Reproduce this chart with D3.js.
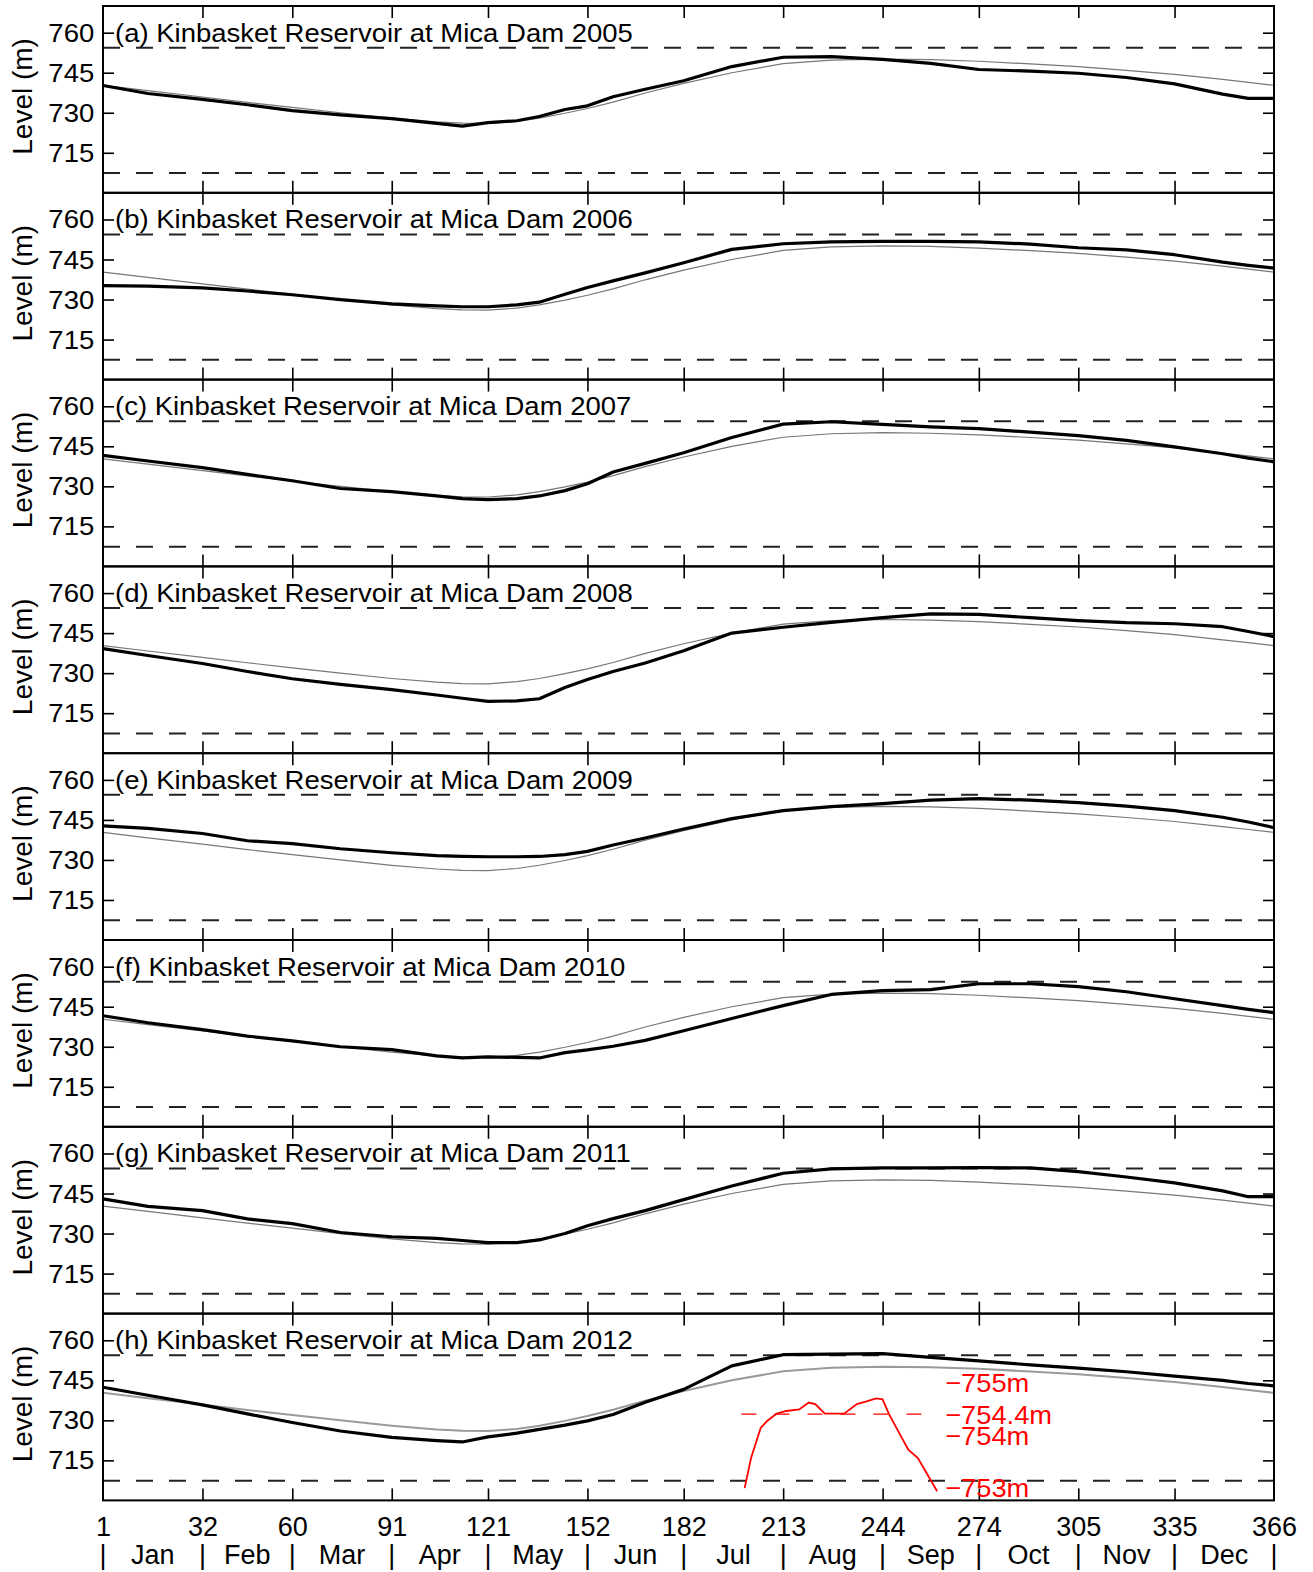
<!DOCTYPE html>
<html>
<head>
<meta charset="utf-8">
<script src="https://cdn.jsdelivr.net/npm/d3@7"></script>
<style>
  body { margin: 0; background: #fff; }
  text { font-family: "Liberation Sans", Arial, sans-serif; }
</style>
</head>
<body>
<div id="chart"></div>
<script>
// day-of-year grid used for every series
var days = [1, 15, 32, 46, 60, 75, 91, 105, 113, 121, 130, 137, 145, 152, 160, 170, 182, 197, 213, 228, 244, 259, 274, 290, 305, 320, 335, 350, 358, 366];

// thin grey line (normal level), same in every panel
var normal = [740.3, 738.3, 735.9, 733.9, 732.0, 730.0, 728.0, 726.6, 726.1, 726.0, 726.8, 728.0, 729.8, 731.6, 734.0, 737.4, 741.0, 745.0, 748.4, 749.7, 750.1, 749.9, 749.3, 748.3, 747.3, 745.9, 744.4, 742.5, 741.4, 740.3];

// thick black lines (observed level)
var obs2005 = [740.2, 737.2, 735.0, 733.0, 730.8, 729.2, 727.8, 726.0, 725.0, 726.3, 727.0, 728.6, 731.2, 732.6, 736.0, 738.8, 742.0, 747.3, 750.8, 751.0, 750.0, 748.5, 746.2, 745.6, 744.8, 743.2, 740.8, 737.0, 735.4, 735.4];
var obs2006 = [735.2, 735.0, 734.4, 733.2, 731.8, 730.0, 728.4, 727.6, 727.3, 727.3, 728.0, 729.0, 732.0, 734.5, 737.0, 740.0, 743.8, 748.8, 750.9, 751.6, 751.8, 751.8, 751.6, 750.8, 749.4, 748.6, 746.8, 744.0, 742.8, 741.8];
var obs2007 = [741.6, 739.5, 737.0, 734.5, 732.1, 729.2, 728.0, 726.4, 725.4, 725.0, 725.4, 726.4, 728.4, 731.0, 735.4, 738.6, 742.6, 748.3, 753.3, 754.2, 753.2, 752.3, 751.6, 750.3, 749.0, 747.2, 744.8, 742.2, 740.6, 739.2];
var obs2008 = [739.2, 736.6, 733.6, 730.6, 727.9, 725.8, 723.8, 721.8, 720.6, 719.4, 719.6, 720.4, 724.6, 727.6, 730.6, 733.8, 738.4, 745.0, 747.2, 749.0, 750.8, 752.2, 752.0, 750.8, 749.7, 748.9, 748.5, 747.4, 745.6, 743.7];
var obs2009 = [742.8, 741.8, 739.9, 737.2, 736.1, 734.2, 732.7, 731.6, 731.3, 731.2, 731.2, 731.3, 732.0, 733.2, 735.6, 738.2, 741.6, 745.5, 748.5, 750.0, 751.1, 752.4, 753.0, 752.4, 751.5, 750.2, 748.5, 746.0, 744.2, 742.1];
var obs2010 = [741.6, 739.0, 736.4, 734.0, 732.2, 730.0, 728.9, 726.6, 725.8, 726.2, 726.0, 725.8, 727.8, 728.8, 730.2, 732.4, 736.0, 740.6, 745.4, 749.6, 751.0, 751.4, 753.6, 753.6, 752.5, 750.6, 748.0, 745.4, 744.0, 742.8];
var obs2011 = [743.0, 740.2, 738.6, 735.5, 733.7, 730.4, 728.8, 728.2, 727.4, 726.6, 726.6, 727.6, 730.0, 732.9, 735.6, 738.6, 742.7, 747.8, 752.6, 754.2, 754.6, 754.6, 754.7, 754.6, 753.2, 751.2, 749.0, 746.0, 743.8, 743.8];
var obs2012 = [742.4, 739.4, 735.8, 732.4, 729.2, 726.0, 723.6, 722.4, 721.9, 723.8, 725.2, 726.6, 728.2, 729.8, 732.2, 736.8, 741.6, 750.4, 754.6, 754.8, 755.0, 753.6, 752.3, 750.8, 749.6, 748.2, 746.6, 745.0, 743.8, 742.9];

var observed = [obs2005, obs2006, obs2007, obs2008, obs2009, obs2010, obs2011, obs2012];
var years = [2005, 2006, 2007, 2008, 2009, 2010, 2011, 2012];
var letters = ["a", "b", "c", "d", "e", "f", "g", "h"];

// red close-up of the 2012 summer peak
var redDays = [201, 203, 206, 208, 211, 214, 218, 221, 223, 226, 232, 236, 239, 242, 244, 246, 250, 252, 255, 261];
var redLevels = [753.0, 753.57, 754.14, 754.27, 754.41, 754.46, 754.49, 754.62, 754.59, 754.41, 754.41, 754.59, 754.64, 754.7, 754.68, 754.4, 753.95, 753.73, 753.57, 752.94];
var redTicks = [755, 754.4, 754, 753];
var redTickLabels = ["\u2212755m", "\u2212754.4m", "\u2212754m", "\u2212753m"];

var yTicks = [715, 730, 745, 760];
var xTicks = [1, 32, 60, 91, 121, 152, 182, 213, 244, 274, 305, 335, 366];
var months = ["Jan", "Feb", "Mar", "Apr", "May", "Jun", "Jul", "Aug", "Sep", "Oct", "Nov", "Dec"];
var fullPool = 754.4,
  minPool = 707.4;

// set the dimensions of the graph
var W = 1313,
  H = 1572,
  left = 103,
  right = 1274,
  top0 = 6,
  ph = 186.8;

var svg = d3
  .select("#chart")
  .append("svg")
  .attr("width", W)
  .attr("height", H)
  .style("background", "#fff");

var x = d3.scaleLinear().domain([1, 366]).range([left, right]);
var y = d3.scaleLinear().domain([700, 770]).range([ph, 0]);

var line = d3
  .line()
  .x(function (d) { return x(d[0]); })
  .y(function (d) { return y(d[1]); });

observed.forEach(function (obs, i) {
  var g = svg.append("g").attr("transform", "translate(0," + (top0 + i * ph) + ")");

  // dashed full pool / minimum pool lines
  [fullPool, minPool].forEach(function (lv) {
    g.append("line")
      .attr("x1", x(1))
      .attr("x2", x(366))
      .attr("y1", y(lv))
      .attr("y2", y(lv))
      .attr("stroke", "#222")
      .attr("stroke-width", 2)
      .attr("stroke-dasharray", "17,16");
  });

  // normal
  g.append("path")
    .datum(days.map(function (d, k) { return [d, normal[k]]; }))
    .attr("d", line)
    .attr("fill", "none")
    .attr("stroke", i == 7 ? "#9a9a9a" : "#777")
    .attr("stroke-width", i == 7 ? 2 : 1.2);

  // observed
  g.append("path")
    .datum(days.map(function (d, k) { return [d, obs[k]]; }))
    .attr("d", line)
    .attr("fill", "none")
    .attr("stroke", "#000")
    .attr("stroke-width", 3.2)
    .attr("stroke-linejoin", "round");

  // axes, ticks inward
  g.append("g").attr("class", "yl").attr("transform", "translate(" + left + ",0)")
    .call(d3.axisLeft(y).tickValues(yTicks).tickSize(-11).tickSizeOuter(0).tickPadding(8));
  g.append("g").attr("transform", "translate(" + right + ",0)")
    .call(d3.axisRight(y).tickValues(yTicks).tickSize(-11).tickSizeOuter(0).tickFormat(""));
  g.append("g")
    .call(d3.axisTop(x).tickValues(xTicks.slice(1, -1)).tickSize(-12).tickSizeOuter(0).tickFormat(""));
  var xb = g.append("g").attr("transform", "translate(0," + ph + ")")
    .call(d3.axisBottom(x).tickValues(i == 7 ? xTicks : xTicks.slice(1, -1)).tickSize(-12).tickSizeOuter(0).tickPadding(16)
      .tickFormat(i == 7 ? d3.format("d") : ""));
  if (i == 7) xb.selectAll(".tick").filter(function (d) { return d == 1 || d == 366; }).select("line").remove();

  g.selectAll(".domain").remove();
  g.selectAll(".tick line").attr("stroke", "#000").attr("stroke-width", 1.6);
  g.selectAll(".tick text").attr("font-size", 27).attr("fill", "#000")
    .attr("font-family", "Liberation Sans, Arial, sans-serif");
  // the level labels are wide and short in the original
  g.selectAll(".yl .tick text").attr("font-size", 25).attr("dy", "0.34em").attr("transform", "scale(1.1,1)");

  // frame
  g.append("rect")
    .attr("x", left)
    .attr("y", 0)
    .attr("width", right - left)
    .attr("height", ph)
    .attr("fill", "none")
    .attr("stroke", "#000")
    .attr("stroke-width", 2);

  // panel title
  g.append("text")
    .attr("transform", "translate(" + (x(1) + 12) + "," + (y(760) + 9) + ") scale(1.1,1)")
    .attr("font-size", 25)
    .text("(" + letters[i] + ") Kinbasket Reservoir at Mica Dam " + years[i]);

  // y label
  g.append("text")
    .attr("transform", "translate(32," + (ph / 2 - 3) + ") rotate(-90)")
    .attr("text-anchor", "middle")
    .attr("font-size", 28)
    .text("Level (m)");

  if (i == 7) {
    var ry = d3.scaleLinear().domain([753, 755]).range([y(704.6), y(744.2)]);
    g.append("line")
      .attr("x1", x(200))
      .attr("x2", x(259))
      .attr("y1", ry(754.4))
      .attr("y2", ry(754.4))
      .attr("stroke", "#f00")
      .attr("stroke-width", 1.3)
      .attr("stroke-dasharray", "15,18");
    g.append("path")
      .datum(redDays.map(function (d, k) { return [d, redLevels[k]]; }))
      .attr("d", d3.line().x(function (d) { return x(d[0]); }).y(function (d) { return ry(d[1]); }))
      .attr("fill", "none")
      .attr("stroke", "#f00")
      .attr("stroke-width", 1.8);
    g.selectAll("text.red")
      .data(redTicks)
      .enter()
      .append("text")
      .attr("class", "red")
      .attr("transform", function (d) { return "translate(" + x(263.5) + "," + ry(d) + ") scale(1.05,1)"; })
      .attr("dy", "0.36em")
      .attr("font-size", 26)
      .attr("fill", "#f00")
      .text(function (d, k) { return redTickLabels[k]; });
  }
});

// month row under the last panel
var mrow = svg.append("g");
var yMonth = top0 + 8 * ph + 64;
mrow.selectAll("text.sep")
  .data(xTicks)
  .enter()
  .append("text")
  .attr("x", function (d) { return x(d); })
  .attr("y", yMonth)
  .attr("text-anchor", "middle")
  .attr("font-size", 27)
  .text("|");
mrow.selectAll("text.mon")
  .data(months)
  .enter()
  .append("text")
  .attr("x", function (d, k) { return (x(xTicks[k]) + x(xTicks[k + 1])) / 2; })
  .attr("y", yMonth)
  .attr("text-anchor", "middle")
  .attr("font-size", 27)
  .text(function (d) { return d; });
</script>
</body>
</html>
